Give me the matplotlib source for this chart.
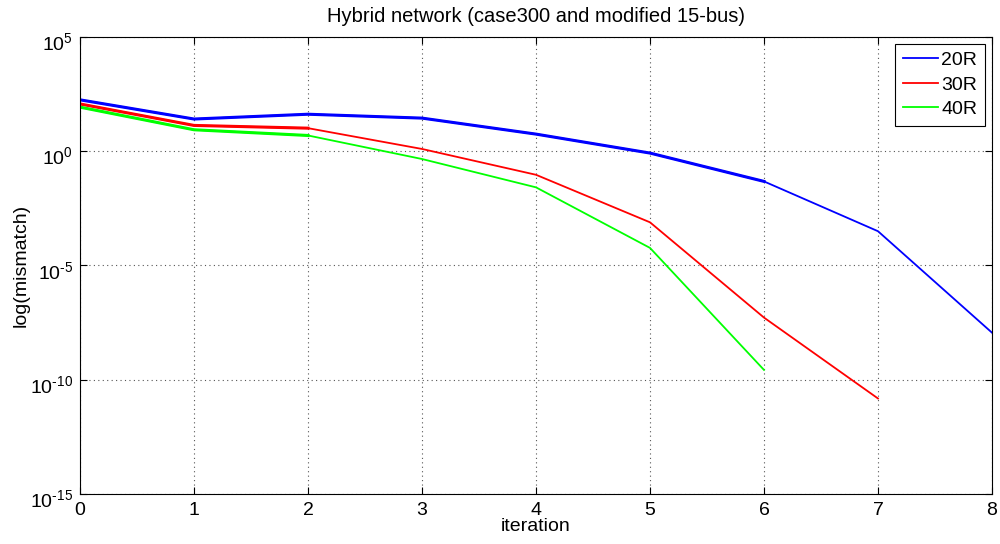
import matplotlib
matplotlib.use("Agg")
import matplotlib.pyplot as plt
import matplotlib.ticker as mticker
import matplotlib.transforms as mtransforms
import numpy as np

plt.rcParams['font.family'] = ['Liberation Sans', 'DejaVu Sans']
plt.rcParams['mathtext.fontset'] = 'custom'
plt.rcParams['mathtext.rm'] = 'Liberation Sans'
plt.rcParams['mathtext.it'] = 'Liberation Sans'
plt.rcParams['axes.unicode_minus'] = False

iter_20 = [0, 1, 2, 3, 4, 5, 6, 7, 8]
log_20 = [2.25, 1.41, 1.62, 1.45, 0.75, -0.08, -1.32, -3.50, -7.94]
iter_30 = [0, 1, 2, 3, 4, 5, 6, 7]
log_30 = [2.07, 1.13, 1.01, 0.10, -1.03, -3.11, -7.28, -10.82]
iter_40 = [0, 1, 2, 3, 4, 5, 6]
log_40 = [1.93, 0.94, 0.69, -0.34, -1.58, -4.23, -9.57]

labels = ['20R', '30R', '40R']
colors = ['#0000ff', '#ff0000', '#00ff00']
yexps = [-15, -10, -5, 0, 5]
xticks = list(range(9))

fig = plt.figure(figsize=(10, 5.44), dpi=100)
ax = fig.add_axes([0.08, 0.0919, 0.912, 0.8401])

series = [(iter_20, log_20, 6), (iter_30, log_30, 2), (iter_40, log_40, 2)]
for (x, ly, thick_end), lab, c in zip(series, labels, colors):
    y = [10.0 ** v for v in ly]
    ax.plot(x, y, color=c, lw=1.3, label=lab)
    ax.plot(x[:thick_end + 1], y[:thick_end + 1], color=c, lw=2.2)

ax.set_yscale('log')
ax.set_xlim(0, 8)
ax.set_ylim(1e-15, 1e5)
ax.set_xticks(xticks)
ax.set_yticks([10.0 ** e for e in yexps])
ax.set_yticklabels([r'$\mathregular{10^{%s}}$' % str(e).replace('-', '\u2010') for e in yexps])
ax.yaxis.set_minor_locator(mticker.NullLocator())
ax.tick_params(direction='in', labelsize=14, length=5, top=True, right=True)
ax.tick_params(axis='x', pad=6)
ax.tick_params(axis='y', pad=5)
ax.grid(True, linestyle=(0, (1, 3)), color='#555555', lw=0.8)
for s in ax.spines.values():
    s.set_linewidth(0.8)

offset = mtransforms.ScaledTranslation(0, -3 / 72, fig.dpi_scale_trans)
for t in ax.get_yticklabels():
    t.set_transform(t.get_transform() + offset)

ax.set_xlabel('iteration', fontsize=14, labelpad=-1)
ax.set_ylabel('log(mismatch)', fontsize=14, labelpad=0)
ax.set_title('Hybrid network (case300 and modified 15-bus)', fontsize=14.5, pad=11)

leg = ax.legend(loc='upper right', fontsize=14, fancybox=False, edgecolor='black',
                framealpha=1, handlelength=1.8, handletextpad=0.2, borderpad=0.4,
                labelspacing=0.35, borderaxespad=0.35)
leg.get_frame().set_linewidth(0.8)
for h in leg.get_lines():
    h.set_linewidth(1.3)

fig.savefig('out.png', dpi=100)
